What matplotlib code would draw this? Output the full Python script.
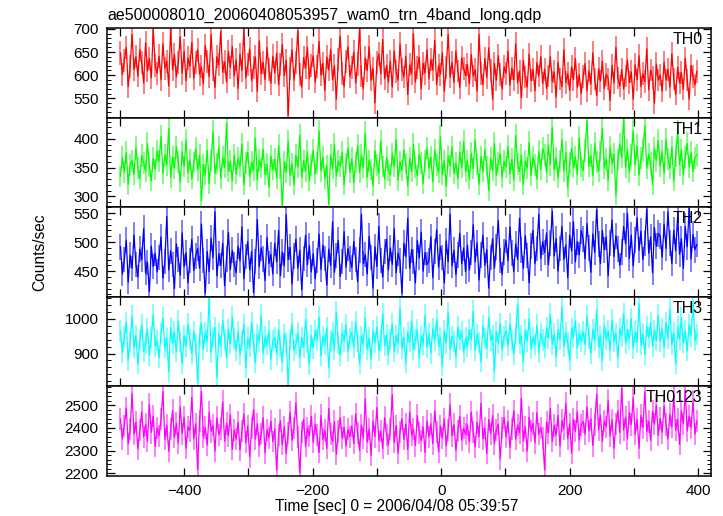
import numpy as np
import matplotlib
matplotlib.use("Agg")
import matplotlib.pyplot as plt
from matplotlib.ticker import MultipleLocator

plt.rcParams['font.family'] = ['Liberation Sans', 'DejaVu Sans']

title = "ae500008010_20060408053957_wam0_trn_4band_long.qdp"
xlabel = "Time [sec] 0 = 2006/04/08 05:39:57"
ylabel = "Counts/sec"
band_names = ["TH0", "TH1", "TH2", "TH3", "TH0123"]
band_colors = ["#ff0000", "#00ff00", "#0000ff", "#00ffff", "#ff00ff"]

# time bins (s)
time = np.arange(-499, 400, 3)

th0 = [
 648, 601, 632, 660, 575, 619, 688, 612, 640, 598, 655, 627, 583, 670, 609, 636, 594, 699, 620, 604,
 641, 590, 668, 615, 630, 577, 702, 611, 645, 596, 628, 683, 604, 652, 588, 637, 619, 671, 593, 627,
 655, 602, 618, 581, 664, 630, 597, 688, 612, 573, 640, 622, 695, 606, 629, 585, 651, 616, 662, 598,
 633, 571, 645, 610, 700, 594, 622, 656, 588, 617, 639, 565, 674, 603, 628, 590, 660, 612, 582, 641,
 605, 648, 579, 623, 666, 598, 632, 512, 614, 655, 589, 627, 697, 601, 574, 638, 616, 660, 593, 621,
 642, 585, 618, 673, 600, 626, 567, 639, 611, 655, 590, 620, 548, 633, 684, 604, 575, 629, 661, 597,
 616, 650, 583, 624, 699, 598, 571, 637, 610, 662, 589, 615, 540, 628, 646, 603, 677, 592, 621, 585,
 630, 574, 652, 607, 589, 668, 613, 596, 641, 558, 622, 603, 690, 585, 617, 639, 570, 626, 604, 655,
 592, 634, 611, 675, 580, 620, 602, 648, 565, 617, 688, 596, 628, 584, 652, 609, 573, 637, 615, 599,
 623, 581, 645, 598, 612, 565, 688, 604, 579, 636, 595, 659, 610, 548, 626, 589, 642, 601, 570, 618,
 604, 652, 578, 615, 590, 668, 583, 609, 551, 632, 596, 574, 645, 588, 612, 566, 627, 598, 640, 582,
 613, 571, 598, 640, 585, 607, 552, 628, 592, 575, 655, 584, 603, 567, 618, 590, 636, 574, 601, 560,
 597, 625, 566, 609, 580, 648, 591, 556, 614, 587, 630, 571, 602, 592, 545, 621, 583, 660, 594, 576,
 612, 570, 598, 633, 584, 607, 548, 622, 590, 642, 575, 603, 586, 657, 568, 611, 595, 539, 624, 589,
 600, 565, 628, 589, 612, 574, 646, 592, 558, 617, 583, 605, 569, 636, 590, 548, 621, 597, 579, 608,
]

th1 = [
 335, 368, 342, 376, 321, 355, 362, 338, 385, 349, 330, 371, 358, 344, 392, 352, 327, 366, 347, 379,
 361, 404, 340, 372, 355, 418, 333, 368, 349, 386, 360, 325, 377, 352, 398, 341, 364, 330, 359, 383,
 346, 371, 292, 355, 338, 380, 322, 362, 413, 340, 357, 386, 331, 368, 350, 427, 343, 361, 327, 372,
 339, 366, 352, 391, 320, 358, 377, 334, 360, 345, 401, 329, 363, 350, 382, 338, 356, 316, 370, 347,
 365, 331, 388, 349, 283, 360, 342, 396, 336, 357, 320, 372, 351, 406, 333, 362, 344, 378, 327, 355,
 380, 339, 358, 413, 344, 368, 331, 353, 286, 372, 348, 390, 335, 361, 352, 376, 320, 357, 384, 342,
 366, 324, 359, 388, 341, 372, 350, 410, 333, 362, 347, 318, 379, 355, 340, 396, 352, 330, 368, 345,
 337, 374, 352, 399, 328, 360, 345, 381, 356, 318, 366, 343, 390, 351, 336, 373, 358, 322, 362, 384,
 349, 368, 325, 381, 355, 342, 404, 338, 362, 317, 370, 353, 386, 340, 358, 331, 377, 350, 395, 343,
 362, 330, 375, 348, 398, 356, 321, 369, 343, 381, 352, 310, 366, 345, 392, 337, 359, 374, 333, 361,
 351, 387, 339, 365, 328, 406, 356, 343, 372, 320, 361, 349, 394, 336, 368, 355, 330, 378, 347, 383,
 372, 341, 389, 355, 420, 346, 367, 332, 361, 398, 344, 376, 316, 358, 384, 350, 369, 338, 402, 353,
 345, 380, 432, 352, 371, 336, 392, 360, 344, 377, 418, 349, 365, 328, 386, 357, 373, 302, 364, 391,
 368, 435, 350, 381, 342, 372, 414, 355, 388, 337, 366, 380, 423, 349, 373, 358, 320, 384, 362, 397,
 353, 378, 340, 399, 365, 349, 386, 327, 370, 412, 355, 381, 338, 368, 392, 351, 376, 343, 367, 372,
]

th2 = [
 492, 445, 470, 503, 431, 478, 455, 512, 462, 440, 488, 470, 523, 447, 465, 415, 493, 458, 481, 449,
 474, 509, 438, 466, 544, 452, 485, 461, 420, 497, 470, 443, 516, 458, 482, 430, 468, 505, 451, 476,
 489, 455, 531, 468, 412, 484, 449, 507, 473, 552, 442, 480, 460, 498, 425, 471, 517, 453, 486, 462,
 447, 493, 468, 526, 437, 475, 501, 452, 484, 413, 467, 539, 458, 490, 471, 434, 508, 463, 479, 445,
 498, 466, 520, 442, 483, 459, 547, 470, 491, 428, 476, 505, 455, 486, 418, 472, 512, 461, 494, 449,
 480, 437, 469, 514, 453, 495, 472, 426, 488, 460, 535, 448, 477, 503, 441, 466, 518, 457, 489, 471,
 456, 501, 470, 432, 486, 548, 463, 479, 445, 510, 474, 421, 492, 458, 527, 469, 440, 484, 505, 452,
 490, 462, 523, 447, 481, 468, 412, 498, 475, 541, 455, 487, 466, 430, 503, 473, 517, 450, 482, 461,
 468, 509, 439, 484, 521, 457, 492, 473, 430, 502, 466, 548, 459, 486, 444, 478, 515, 463, 490, 449,
 495, 452, 482, 530, 466, 499, 435, 478, 512, 460, 487, 421, 474, 506, 455, 492, 537, 469, 445, 483,
 503, 468, 526, 481, 449, 497, 470, 541, 486, 455, 511, 477, 430, 494, 520, 463, 489, 548, 472, 501,
 482, 516, 461, 498, 553, 476, 506, 450, 489, 527, 470, 495, 439, 512, 485, 535, 466, 501, 478, 520,
 505, 471, 532, 490, 448, 514, 482, 556, 496, 463, 520, 487, 509, 442, 498, 538, 475, 511, 488, 460,
 483, 527, 497, 550, 472, 512, 459, 503, 542, 486, 519, 470, 498, 557, 481, 509, 447, 525, 493, 515,
 510, 474, 531, 489, 552, 498, 463, 520, 485, 543, 479, 506, 455, 527, 492, 558, 471, 513, 487, 496,
]

th3 = [
 965, 902, 948, 990, 880, 935, 1008, 917, 952, 869, 940, 983, 906, 928, 971, 895, 946, 1012, 921, 938,
 887, 958, 1003, 916, 944, 848, 975, 929, 962, 905, 993, 934, 871, 952, 920, 985, 940, 899, 963, 927,
 815, 950, 988, 912, 961, 936, 1060, 903, 947, 975, 830, 958, 921, 996, 940, 887, 969, 928, 1005, 944,
 910, 962, 897, 938, 984, 858, 945, 919, 990, 928, 873, 955, 936, 1010, 901, 948, 925, 966, 882, 937,
 947, 898, 969, 920, 876, 955, 932, 810, 941, 985, 908, 927, 961, 889, 946, 918, 999, 931, 868, 952,
 915, 967, 940, 1005, 893, 949, 926, 975, 858, 938, 960, 911, 1020, 930, 895, 958, 936, 982, 906, 944,
 962, 918, 991, 935, 870, 950, 927, 1002, 912, 945, 885, 966, 931, 977, 908, 939, 1015, 923, 954, 896,
 940, 985, 906, 952, 929, 1030, 915, 947, 872, 961, 934, 993, 911, 940, 968, 887, 950, 927, 1010, 918,
 956, 901, 972, 938, 998, 922, 947, 865, 966, 930, 1018, 912, 950, 935, 889, 977, 941, 962, 904, 945,
 921, 968, 940, 1022, 909, 955, 933, 876, 979, 944, 915, 1005, 938, 953, 848, 963, 929, 987, 910, 949,
 966, 922, 985, 941, 898, 958, 1040, 930, 952, 877, 968, 936, 1001, 913, 947, 925, 982, 902, 958, 939,
 918, 975, 944, 1013, 927, 956, 891, 969, 940, 1035, 920, 961, 933, 880, 972, 948, 994, 915, 957, 936,
 963, 926, 1008, 945, 900, 970, 938, 1026, 917, 953, 879, 980, 942, 965, 910, 997, 934, 958, 888, 971,
 950, 1015, 928, 968, 941, 1001, 915, 962, 932, 1044, 925, 957, 897, 978, 946, 989, 921, 966, 937, 1010,
 935, 972, 918, 990, 945, 1028, 926, 960, 870, 977, 942, 1003, 931, 965, 908, 984, 950, 1052, 938, 955,
]

th0123 = [
 2440, 2352, 2410, 2488, 2330, 2395, 2551, 2372, 2425, 2308, 2390, 2470, 2360, 2415, 2342, 2503, 2380, 2452, 2318, 2401,
 2365, 2438, 2560, 2349, 2412, 2297, 2395, 2476, 2358, 2420, 2333, 2492, 2375, 2447, 2310, 2405, 2388, 2535, 2352, 2418,
 2216, 2431, 2560, 2360, 2402, 2325, 2468, 2384, 2412, 2298, 2445, 2370, 2397, 2515, 2342, 2420, 2366, 2458, 2305, 2390,
 2351, 2424, 2302, 2387, 2462, 2336, 2409, 2273, 2398, 2480, 2350, 2418, 2322, 2373, 2445, 2290, 2392, 2356, 2430, 2340,
 2395, 2214, 2368, 2432, 2327, 2405, 2288, 2378, 2469, 2345, 2399, 2510, 2358, 2202, 2382, 2438, 2319, 2401, 2364, 2452,
 2336, 2417, 2368, 2291, 2455, 2349, 2390, 2310, 2486, 2372, 2340, 2428, 2283, 2384, 2445, 2355, 2403, 2321, 2394, 2362,
 2408, 2332, 2462, 2377, 2301, 2413, 2356, 2528, 2338, 2395, 2280, 2430, 2362, 2490, 2344, 2385, 2309, 2445, 2370, 2327,
 2395, 2547, 2336, 2410, 2288, 2382, 2440, 2349, 2417, 2305, 2470, 2368, 2396, 2322, 2454, 2378, 2343, 2405, 2292, 2431,
 2360, 2418, 2330, 2475, 2381, 2295, 2409, 2355, 2440, 2320, 2392, 2502, 2366, 2415, 2301, 2386, 2451, 2345, 2398, 2373,
 2413, 2339, 2470, 2381, 2316, 2424, 2362, 2508, 2352, 2400, 2287, 2437, 2375, 2455, 2331, 2392, 2416, 2264, 2399, 2446,
 2361, 2428, 2312, 2394, 2475, 2350, 2413, 2378, 2530, 2342, 2405, 2298, 2447, 2386, 2420, 2334, 2468, 2372, 2401, 2356,
 2215, 2425, 2378, 2486, 2340, 2411, 2368, 2455, 2320, 2432, 2396, 2508, 2352, 2418, 2289, 2440, 2385, 2471, 2346, 2414,
 2428, 2372, 2493, 2386, 2440, 2322, 2415, 2548, 2393, 2457, 2341, 2430, 2404, 2520, 2365, 2436, 2310, 2418, 2475, 2380,
 2575, 2390, 2447, 2352, 2468, 2415, 2532, 2372, 2438, 2310, 2455, 2401, 2560, 2385, 2429, 2345, 2473, 2416, 2500, 2368,
 2442, 2380, 2498, 2415, 2351, 2460, 2403, 2540, 2390, 2437, 2328, 2475, 2418, 2565, 2386, 2452, 2401, 2519, 2372, 2430,
]

series = [th0, th1, th2, th3, th0123]
ylims = [(508, 702), (281, 437), (406, 560), (805, 1064), (2188, 2583)]
ymajor = [50, 50, 50, 100, 100]
yminor = [10, 10, 10, 20, 20]

fig = plt.figure(figsize=(7.23, 5.16), dpi=100)
gs = fig.add_gridspec(5, 1, left=107/723, right=711/723, top=1-28/516, bottom=1-476/516, hspace=0)
axes = [fig.add_subplot(gs[i]) for i in range(5)]

for i, ax in enumerate(axes):
    y = np.array(series[i], dtype=float)
    err = np.sqrt(y)
    col = band_colors[i]
    ax.vlines(time, y - err, y + err, colors=col, alpha=0.5, linewidth=1.4)
    ax.plot(time, y, color=col, linewidth=0.9)
    ax.set_xlim(-520, 420)
    ax.set_ylim(*ylims[i])
    ax.xaxis.set_major_locator(MultipleLocator(100))
    ax.yaxis.set_major_locator(MultipleLocator(ymajor[i]))
    ax.yaxis.set_minor_locator(MultipleLocator(yminor[i]))
    ax.tick_params(which='both', direction='in', top=True, right=True, labelsize=11, pad=6)
    ax.tick_params(which='major', length=6, width=0.9)
    ax.tick_params(which='minor', length=3, width=0.7)
    for s in ax.spines.values():
        s.set_linewidth(1.1)
    ax.text(0.986, 0.955, band_names[i], transform=ax.transAxes, ha='right', va='top', fontsize=11.5)
    if i < 4:
        ax.tick_params(labelbottom=False)
    else:
        ax.set_xticks([-400, -300, -200, -100, 0, 100, 200, 300, 400])
        ax.set_xticklabels(["\u2212400", "", "\u2212200", "", "0", "", "200", "", "400"])

fig.text(107/723, 1-15/516, title, ha='left', va='center', fontsize=11.5)
fig.text(397/723, 1-507/516, xlabel, ha='center', va='center', fontsize=11.2)
fig.text(40/723, 1-252/516, ylabel, ha='center', va='center', rotation=90, fontsize=11.2)

fig.savefig("out.png", dpi=100)
